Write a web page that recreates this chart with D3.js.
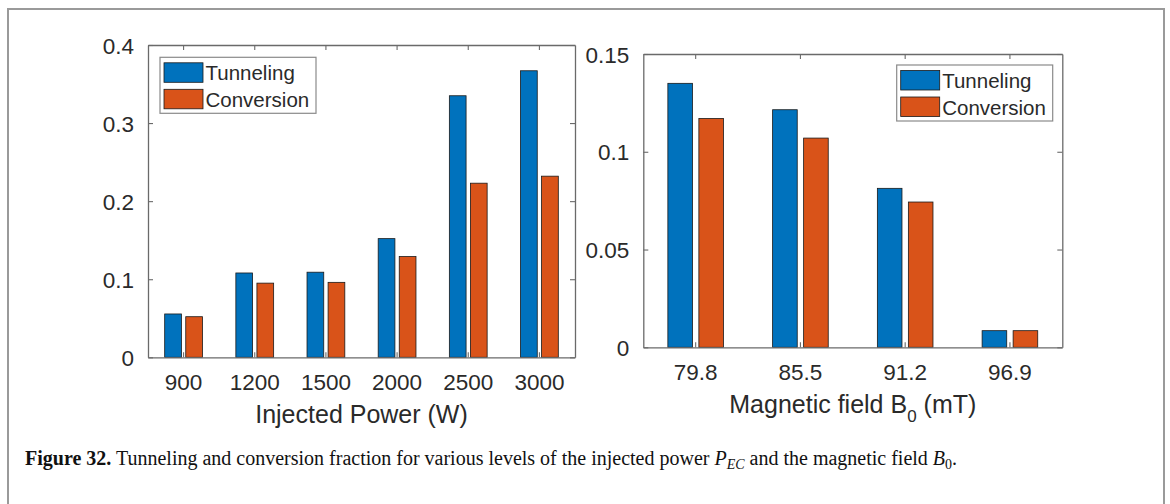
<!DOCTYPE html>
<html>
<head>
<meta charset="utf-8">
<script src="https://cdn.jsdelivr.net/npm/d3@7"></script>
<style>
  html, body { margin: 0; padding: 0; background: #fff; }
  svg { display: block; }
</style>
</head>
<body>
<svg id="fig" width="1170" height="504"></svg>
<script>
// Tunneling / conversion fractions vs injected power
const powerLabels = ["900", "1200", "1500", "2000", "2500", "3000"];
const powerTunneling = [0.0555, 0.108, 0.109, 0.152, 0.335, 0.367];
const powerConversion = [0.052, 0.095, 0.096, 0.129, 0.223, 0.232];
const powerTicks = [0, 0.1, 0.2, 0.3, 0.4];

// Tunneling / conversion fractions vs magnetic field
const fieldLabels = ["79.8", "85.5", "91.2", "96.9"];
const fieldTunneling = [0.135, 0.1215, 0.0813, 0.0085];
const fieldConversion = [0.117, 0.107, 0.0743, 0.0085];
const fieldTicks = [0, 0.05, 0.1, 0.15];

const seriesNames = ["Tunneling", "Conversion"];
const seriesColors = ["#0072BD", "#D95319"];

const svg = d3.select("#fig");
const sans = "'Liberation Sans', Arial, Helvetica, sans-serif";
const textColor = "#2a2a2a";
const axisColor = "#6a6a6a";

// outer frame of the figure
svg.append("path")
  .attr("d", "M8,504 V9 H1164 V504")
  .attr("fill", "none")
  .attr("stroke", "#9a9a9a")
  .attr("stroke-width", 2);

function panel(opts) {
  const { left, right, top, bottom, cats, tun, conv, ticks, yMax, legend, xlabel } = opts;
  const g = svg.append("g");
  const x = d3.scaleBand().domain(cats).range([left, right]).padding(0);
  const y = d3.scaleLinear().domain([0, yMax]).range([bottom, top]);
  const bw = x.bandwidth();
  const barW = bw * 0.235;
  const offs = [-0.148, 0.148];

  // bars
  [tun, conv].forEach((vals, si) => {
    g.append("g").selectAll("rect")
      .data(cats.map((c, i) => ({ c, v: vals[i] })))
      .join("rect")
      .attr("x", d => x(d.c) + bw * (0.5 + offs[si]) - barW / 2)
      .attr("y", d => y(d.v))
      .attr("width", barW)
      .attr("height", d => y(0) - y(d.v))
      .attr("fill", seriesColors[si])
      .attr("stroke", "#1a1a1a")
      .attr("stroke-width", 0.8);
  });

  // axes with inward ticks on all four sides
  const yAxisL = d3.axisLeft(y).tickValues(ticks).tickFormat(d3.format("~g")).tickSizeInner(-5).tickSizeOuter(0).tickPadding(14);
  const yAxisR = d3.axisRight(y).tickValues(ticks).tickFormat("").tickSizeInner(-5).tickSizeOuter(0);
  const xAxisB = d3.axisBottom(x).tickSizeInner(-5).tickSizeOuter(0).tickPadding(17);
  const xAxisT = d3.axisTop(x).tickFormat("").tickSizeInner(-5).tickSizeOuter(0);

  const gl = g.append("g").attr("transform", `translate(${left},0)`).call(yAxisL);
  const gr = g.append("g").attr("transform", `translate(${right},0)`).call(yAxisR);
  const gb = g.append("g").attr("transform", `translate(0,${bottom})`).call(xAxisB);
  const gt = g.append("g").attr("transform", `translate(0,${top})`).call(xAxisT);
  [gl, gr, gb, gt].forEach(a => {
    a.selectAll("path.domain").attr("stroke", axisColor).attr("stroke-width", 1.3);
    a.selectAll(".tick line").attr("stroke", axisColor).attr("stroke-width", 1.1);
    a.selectAll("text").attr("fill", textColor).style("font-family", sans).style("font-size", "22.5px");
  });
  gl.selectAll(".tick text").attr("dy", "0.36em");

  // x label
  const xl = g.append("text")
    .attr("x", (left + right) / 2)
    .attr("y", bottom + 66)
    .attr("text-anchor", "middle")
    .attr("fill", textColor)
    .style("font-family", sans)
    .style("font-size", "25px");
  xlabel(xl);

  // legend
  const lg = g.append("g");
  lg.append("rect")
    .attr("x", legend.x).attr("y", legend.y)
    .attr("width", 156).attr("height", 56)
    .attr("fill", "#fff").attr("stroke", "#8a8a8a").attr("stroke-width", 1.2);
  seriesNames.forEach((name, i) => {
    lg.append("rect")
      .attr("x", legend.x + 4).attr("y", legend.y + 5.5 + i * 26.5)
      .attr("width", 39).attr("height", 19.5)
      .attr("fill", seriesColors[i]).attr("stroke", "#1a1a1a").attr("stroke-width", 0.8);
    lg.append("text")
      .attr("x", legend.x + 45.5).attr("y", legend.y + 23 + i * 26.5)
      .attr("fill", textColor)
      .style("font-family", sans).style("font-size", "20.5px")
      .text(name);
  });
}

panel({
  left: 148, right: 575, top: 45, bottom: 357.3,
  cats: powerLabels, tun: powerTunneling, conv: powerConversion,
  ticks: powerTicks, yMax: 0.4,
  legend: { x: 160, y: 57.3 },
  xlabel: t => t.text("Injected Power (W)")
});

panel({
  left: 643.3, right: 1062.3, top: 54, bottom: 347.3,
  cats: fieldLabels, tun: fieldTunneling, conv: fieldConversion,
  ticks: fieldTicks, yMax: 0.15,
  legend: { x: 896.7, y: 65 },
  xlabel: t => {
    t.append("tspan").text("Magnetic field B");
    t.append("tspan").attr("dy", 9).style("font-size", "17px").text("0");
    t.append("tspan").attr("dy", -9).text(" (mT)");
  }
});

// caption
const serif = "'Liberation Serif', 'Times New Roman', serif";
const cap = svg.append("text")
  .attr("x", 25).attr("y", 465)
  .attr("fill", "#111")
  .style("font-family", serif)
  .style("font-size", "20px");
cap.append("tspan").style("font-weight", "bold").text("Figure 32.");
cap.append("tspan").text(" Tunneling and conversion fraction for various levels of the injected power ");
cap.append("tspan").style("font-style", "italic").text("P");
cap.append("tspan").attr("dy", 4).style("font-style", "italic").style("font-size", "14px").text("EC");
cap.append("tspan").attr("dy", -4).text(" and the magnetic field ");
cap.append("tspan").style("font-style", "italic").text("B");
cap.append("tspan").attr("dy", 4).style("font-size", "14px").text("0");
cap.append("tspan").attr("dy", -4).text(".");
</script>
</body>
</html>
